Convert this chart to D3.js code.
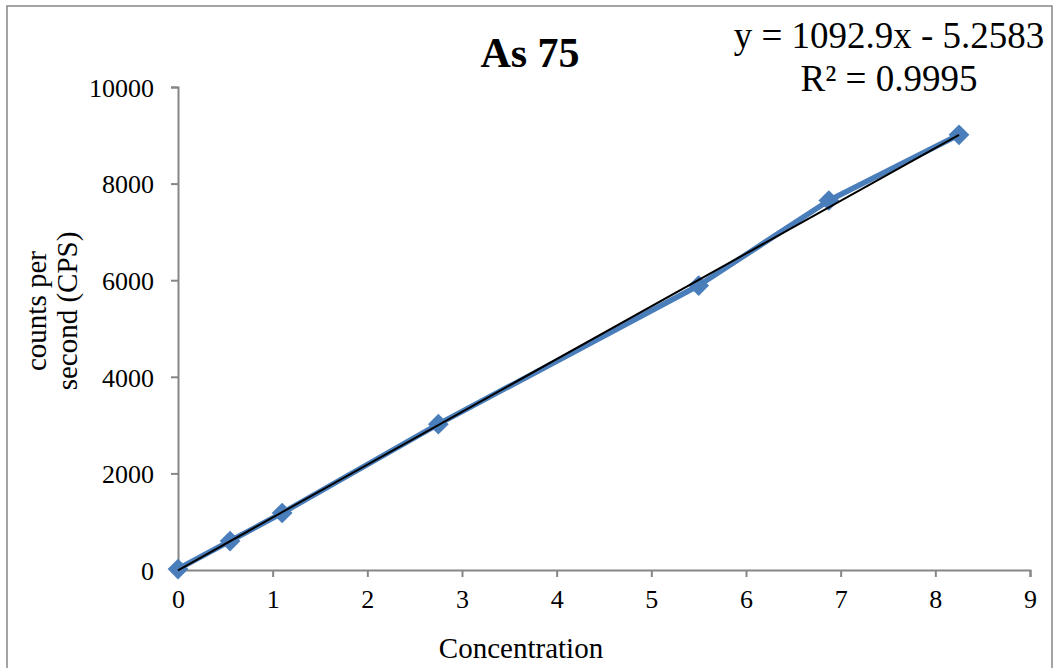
<!DOCTYPE html>
<html>
<head>
<meta charset="utf-8">
<script src="https://cdn.jsdelivr.net/npm/d3@7"></script>
<style>
  html, body { margin: 0; padding: 0; background: #fff; }
  svg { display: block; font-family: "Liberation Serif", "Times New Roman", serif; }
</style>
</head>
<body>
<svg id="chart" width="1055" height="668"></svg>
<script>
// ---- data ----
const concentration = [0, 0.55, 1.1, 2.75, 5.5, 6.875, 8.25];
const cps = [20, 600, 1180, 3020, 5890, 7650, 9010];
const xTicks = [0, 1, 2, 3, 4, 5, 6, 7, 8, 9];
const yTicks = [0, 2000, 4000, 6000, 8000, 10000];
const trendSlope = 1092.9;
const trendIntercept = -5.2583;
const trendR2 = 0.9995;
const chartTitle = "As 75";
const xTitle = "Concentration";
const yTitleLines = ["counts per", "second (CPS)"];

// ---- layout ----
const svg = d3.select("#chart");
const W = 1055, H = 668;
const plot = { left: 178, right: 1030, top: 87, bottom: 570 };
const axisColor = "#868686";
const seriesColor = "#4a7ebb";

svg.append("rect").attr("x", 0).attr("y", 0).attr("width", W).attr("height", H).attr("fill", "#fff");
svg.append("rect")
  .attr("x", 7).attr("y", 6).attr("width", 1045).attr("height", 690)
  .attr("fill", "none").attr("stroke", axisColor).attr("stroke-width", 1.5);

const x = d3.scaleLinear().domain([0, 9]).range([plot.left, plot.right]);
const y = d3.scaleLinear().domain([0, 10000]).range([plot.bottom, plot.top]);

// axes
const xAxis = d3.axisBottom(x).tickValues(xTicks).tickSize(7).tickPadding(13).tickFormat(d3.format("d"));
const yAxis = d3.axisLeft(y).tickValues(yTicks).tickSize(7).tickPadding(17).tickFormat(d3.format("d"));

const gx = svg.append("g").attr("transform", `translate(0,${plot.bottom})`).call(xAxis);
const gy = svg.append("g").attr("transform", `translate(${plot.left},0)`).call(yAxis);
[gx, gy].forEach(g => {
  g.select(".domain").attr("stroke", axisColor).attr("stroke-width", 2);
  g.selectAll(".tick line").attr("stroke", axisColor).attr("stroke-width", 2);
  g.selectAll(".tick text").attr("fill", "#000")
    .style("font-family", '"Liberation Serif", "Times New Roman", serif')
    .style("font-size", "26px");
});
gy.selectAll(".tick text").attr("dy", "0.36em");

// series line
const line = d3.line().x((d, i) => x(concentration[i])).y(d => y(d));
svg.append("path").datum(cps)
  .attr("d", line).attr("fill", "none")
  .attr("stroke", seriesColor).attr("stroke-width", 5.5).attr("stroke-linejoin", "round");

// markers (diamonds)
svg.append("g").selectAll("path").data(cps).join("path")
  .attr("d", d3.symbol().type(d3.symbolSquare).size(215))
  .attr("transform", (d, i) => `translate(${x(concentration[i])},${y(d)}) rotate(45)`)
  .attr("fill", seriesColor);

// trendline
const xMin = d3.min(concentration), xMax = d3.max(concentration);
svg.append("line")
  .attr("x1", x(xMin)).attr("y1", y(trendSlope * xMin + trendIntercept))
  .attr("x2", x(xMax)).attr("y2", y(trendSlope * xMax + trendIntercept))
  .attr("stroke", "#000").attr("stroke-width", 2);

// title
svg.append("text").attr("x", 530).attr("y", 67).attr("text-anchor", "middle")
  .style("font-size", "42px").style("font-weight", "bold").text(chartTitle);

// equation
svg.append("text").attr("x", 889).attr("y", 48).attr("text-anchor", "middle")
  .style("font-size", "37px")
  .text(`y = ${trendSlope}x - ${Math.abs(trendIntercept)}`);
svg.append("text").attr("x", 889).attr("y", 91).attr("text-anchor", "middle")
  .style("font-size", "37px")
  .text(`R² = ${trendR2}`);

// axis titles
svg.append("text").attr("x", 521).attr("y", 658).attr("text-anchor", "middle")
  .style("font-size", "29px").text(xTitle);

const yt = svg.append("text").attr("transform", "translate(46,311) rotate(-90)")
  .attr("text-anchor", "middle").style("font-size", "29px");
yTitleLines.forEach((t, i) => {
  yt.append("tspan").attr("x", 0).attr("dy", i === 0 ? 0 : 31).text(t);
});
</script>
</body>
</html>
